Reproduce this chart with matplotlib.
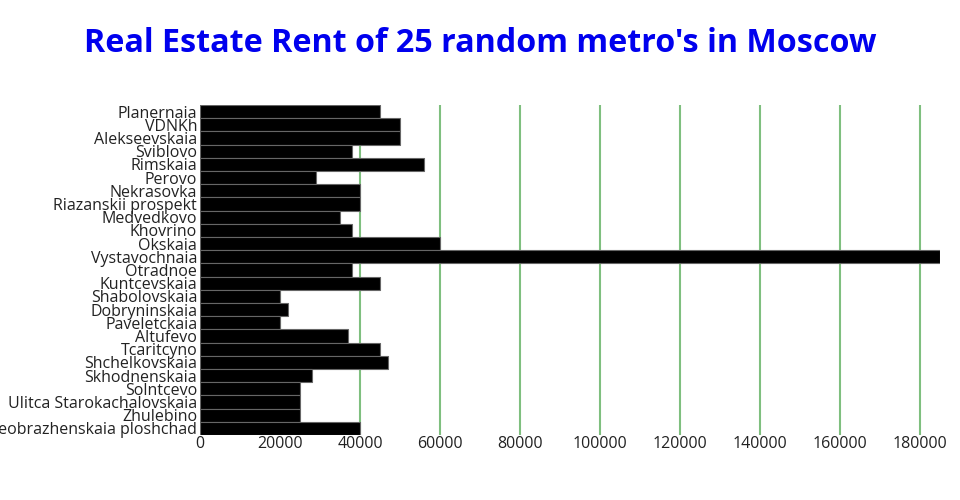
import numpy as np
import matplotlib
matplotlib.use("Agg")
import matplotlib.pyplot as plt

metros = ["Planernaia", "VDNKh", "Alekseevskaia", "Sviblovo", "Rimskaia", "Perovo",
          "Nekrasovka", "Riazanskii prospekt", "Medvedkovo", "Khovrino", "Okskaia",
          "Vystavochnaia", "Otradnoe", "Kuntcevskaia", "Shabolovskaia", "Dobryninskaia",
          "Paveletckaia", "Altufevo", "Tcaritcyno", "Shchelkovskaia", "Skhodnenskaia",
          "Solntcevo", "Ulitca Starokachalovskaia", "Zhulebino",
          "Preobrazhenskaia ploshchad"]
rent = [45000, 50000, 50000, 38000, 56000, 29000,
        40000, 40000, 35000, 38000, 60000,
        185000, 38000, 45000, 20000, 22000,
        20000, 37000, 45000, 47000, 28000,
        25000, 25000, 25000,
        40000]
xticks = [0, 20000, 40000, 60000, 80000, 100000, 120000, 140000, 160000, 180000]

plt.rcParams['font.family'] = ['Open Sans', 'DejaVu Sans']

fig = plt.figure(figsize=(9.6, 5), dpi=100)
ax = fig.add_axes([200 / 960, 65 / 500, 740 / 960, 330 / 500])

# first category at top, like the original
y = np.arange(len(metros))[::-1]
ax.barh(y, rent, height=1.0, color='black', edgecolor='#666666', linewidth=0.8, zorder=3)

ax.set_xlim(0, 185000)
ax.set_ylim(-0.5, len(metros) - 0.5)
ax.set_xticks(xticks)
ax.set_xticklabels([str(t) for t in xticks])
ax.set_yticks(y)
ax.set_yticklabels(metros)
ax.tick_params(axis='both', length=0, labelsize=11.5, colors='#222222')
ax.tick_params(axis='y', pad=2)
ax.tick_params(axis='x', pad=1)

ax.grid(axis='x', color='#7fbf7f', linewidth=1.5, zorder=0)
ax.set_axisbelow(True)
for s in ax.spines.values():
    s.set_visible(False)

fig.text(0.5, 1 - 44 / 500, "Real Estate Rent of 25 random metro's in Moscow",
         ha='center', va='center', color='#0000ee', fontsize=23.2, fontweight='bold')

fig.savefig("out.png", dpi=100)
